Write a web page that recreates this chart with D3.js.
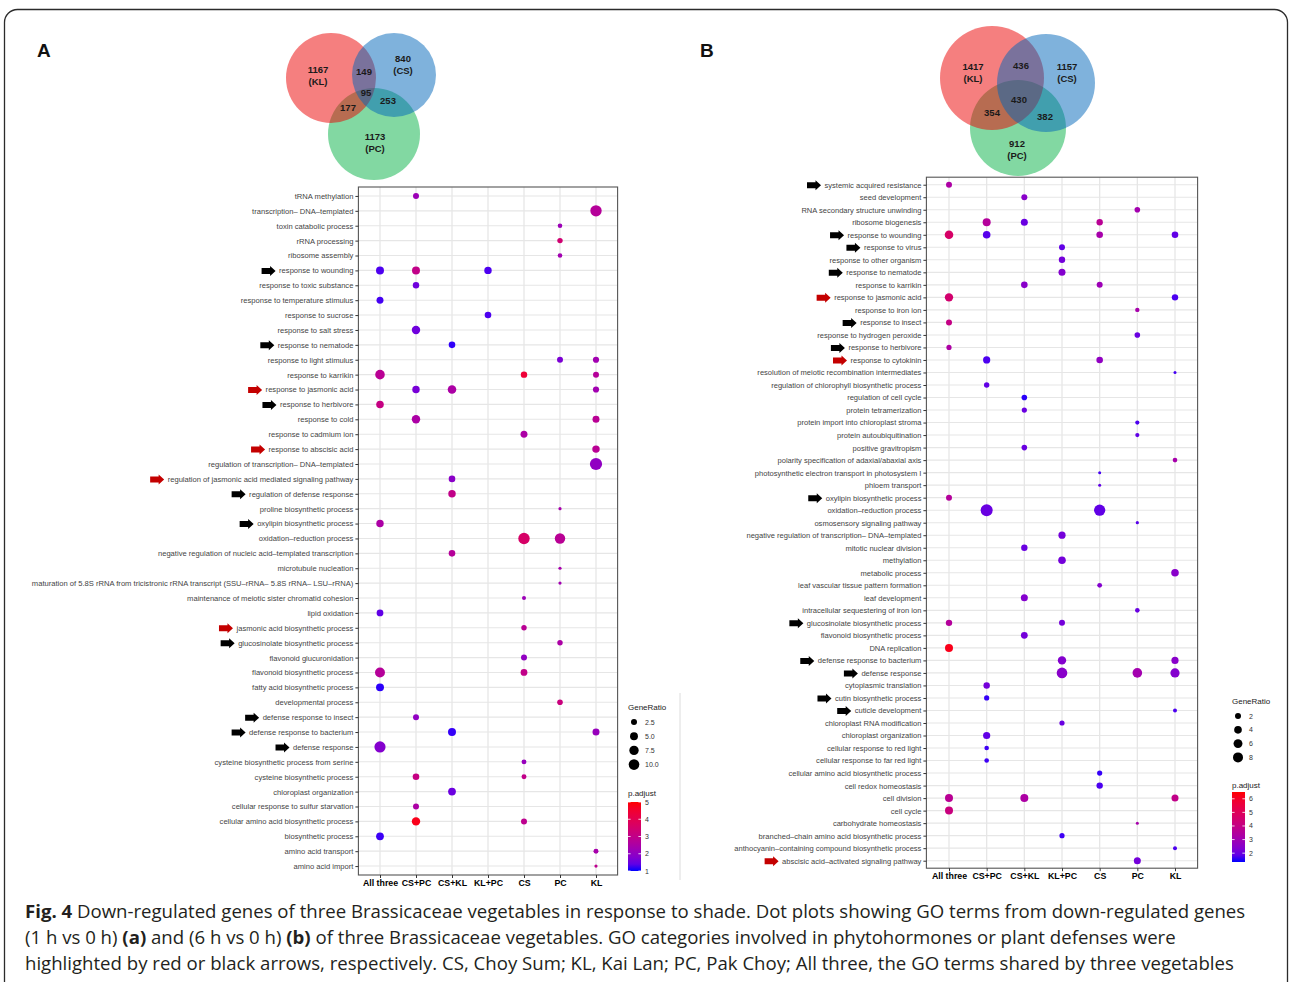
<!DOCTYPE html>
<html><head><meta charset="utf-8">
<script src="https://cdn.jsdelivr.net/npm/d3@7"></script>
<style>body{margin:0;background:#fff}svg{display:block}</style>
</head><body>
<svg id="fig" width="1292" height="982"></svg>
<script>
// ---------------- DATA ----------------
const groups = ["All three","CS+PC","CS+KL","KL+PC","CS","PC","KL"];

const termsA = [
"tRNA methylation","transcription– DNA–templated","toxin catabolic process","rRNA processing","ribosome assembly",
"response to wounding","response to toxic substance","response to temperature stimulus","response to sucrose","response to salt stress",
"response to nematode","response to light stimulus","response to karrikin","response to jasmonic acid","response to herbivore",
"response to cold","response to cadmium ion","response to abscisic acid","regulation of transcription– DNA–templated",
"regulation of jasmonic acid mediated signaling pathway","regulation of defense response","proline biosynthetic process",
"oxylipin biosynthetic process","oxidation–reduction process","negative regulation of nucleic acid–templated transcription",
"microtubule nucleation","maturation of 5.8S rRNA from tricistronic rRNA transcript (SSU–rRNA– 5.8S rRNA– LSU–rRNA)",
"maintenance of meiotic sister chromatid cohesion","lipid oxidation","jasmonic acid biosynthetic process",
"glucosinolate biosynthetic process","flavonoid glucuronidation","flavonoid biosynthetic process","fatty acid biosynthetic process",
"developmental process","defense response to insect","defense response to bacterium","defense response",
"cysteine biosynthetic process from serine","cysteine biosynthetic process","chloroplast organization",
"cellular response to sulfur starvation","cellular amino acid biosynthetic process","biosynthetic process",
"amino acid transport","amino acid import"];

// [term, group, GeneRatio, p.adjust]
const dotsA = [
["tRNA methylation","CS+PC",2.5,2.2],
["transcription– DNA–templated","KL",11.8,2.7],
["toxin catabolic process","PC",1.2,2.2],
["rRNA processing","PC",1.9,3.4],
["ribosome assembly","PC",1.2,2.3],
["response to wounding","All three",5.1,1.25],["response to wounding","CS+PC",5.1,3.0],["response to wounding","KL+PC",4.3,1.25],
["response to toxic substance","CS+PC",3.0,1.55],
["response to temperature stimulus","All three",3.7,1.2],
["response to sucrose","KL+PC",3.2,1.25],
["response to salt stress","CS+PC",5.8,1.55],
["response to nematode","CS+KL",3.2,1.1],
["response to light stimulus","PC",2.5,1.7],["response to light stimulus","KL",2.7,2.3],
["response to karrikin","All three",7.9,2.8],["response to karrikin","CS",3.0,4.4],["response to karrikin","KL",2.5,2.7],
["response to jasmonic acid","CS+PC",4.3,1.65],["response to jasmonic acid","CS+KL",6.1,2.5],["response to jasmonic acid","KL",2.7,2.3],
["response to herbivore","All three",4.5,3.1],
["response to cold","CS+PC",5.8,2.5],["response to cold","KL",3.7,2.8],
["response to cadmium ion","CS",3.7,2.5],
["response to abscisic acid","KL",4.3,2.8],
["regulation of transcription– DNA–templated","KL",13.8,2.0],
["regulation of jasmonic acid mediated signaling pathway","CS+KL",3.2,1.9],
["regulation of defense response","CS+KL",4.3,3.0],
["proline biosynthetic process","PC",0.38,2.4],
["oxylipin biosynthetic process","All three",4.3,2.5],
["oxidation–reduction process","CS",11.8,3.6],["oxidation–reduction process","PC",9.6,2.8],
["negative regulation of nucleic acid–templated transcription","CS+KL",3.2,2.7],
["microtubule nucleation","PC",0.38,2.4],
["maturation of 5.8S rRNA from tricistronic rRNA transcript (SSU–rRNA– 5.8S rRNA– LSU–rRNA)","PC",0.38,2.3],
["maintenance of meiotic sister chromatid cohesion","CS",0.8,2.2],
["lipid oxidation","All three",3.4,1.4],
["jasmonic acid biosynthetic process","CS",1.9,2.8],
["glucosinolate biosynthetic process","PC",1.9,2.5],
["flavonoid glucuronidation","CS",2.5,2.0],
["flavonoid biosynthetic process","All three",8.7,2.7],["flavonoid biosynthetic process","CS",3.4,3.0],
["fatty acid biosynthetic process","All three",5.1,1.08],
["developmental process","PC",2.1,3.2],
["defense response to insect","CS+PC",2.5,2.0],
["defense response to bacterium","CS+KL",5.1,1.12],["defense response to bacterium","KL",3.7,2.1],
["defense response","All three",11.3,1.8],
["cysteine biosynthetic process from serine","CS",1.4,2.1],
["cysteine biosynthetic process","CS+PC",3.2,3.1],["cysteine biosynthetic process","CS",1.5,3.0],
["chloroplast organization","CS+KL",4.8,1.5],
["cellular response to sulfur starvation","CS+PC",2.5,2.5],
["cellular amino acid biosynthetic process","CS+PC",5.8,4.8],["cellular amino acid biosynthetic process","CS",2.5,2.9],
["biosynthetic process","All three",4.8,1.15],
["amino acid transport","KL",1.5,2.4],
["amino acid import","KL",0.38,2.9]];

const arrowsA = [
["response to wounding","black"],["response to nematode","black"],["response to jasmonic acid","red"],
["response to herbivore","black"],["response to abscisic acid","red"],
["regulation of jasmonic acid mediated signaling pathway","red"],["regulation of defense response","black"],
["oxylipin biosynthetic process","black"],["jasmonic acid biosynthetic process","red"],
["glucosinolate biosynthetic process","black"],["defense response to insect","black"],
["defense response to bacterium","black"],["defense response","black"]];

const termsB = [
"systemic acquired resistance","seed development","RNA secondary structure unwinding","ribosome biogenesis","response to wounding",
"response to virus","response to other organism","response to nematode","response to karrikin","response to jasmonic acid",
"response to iron ion","response to insect","response to hydrogen peroxide","response to herbivore","response to cytokinin",
"resolution of meiotic recombination intermediates","regulation of chlorophyll biosynthetic process","regulation of cell cycle",
"protein tetramerization","protein import into chloroplast stroma","protein autoubiquitination","positive gravitropism",
"polarity specification of adaxial/abaxial axis","photosynthetic electron transport in photosystem I","phloem transport",
"oxylipin biosynthetic process","oxidation–reduction process","osmosensory signaling pathway",
"negative regulation of transcription– DNA–templated","mitotic nuclear division","methylation","metabolic process",
"leaf vascular tissue pattern formation","leaf development","intracellular sequestering of iron ion",
"glucosinolate biosynthetic process","flavonoid biosynthetic process","DNA replication","defense response to bacterium",
"defense response","cytoplasmic translation","cutin biosynthetic process","cuticle development","chloroplast RNA modification",
"chloroplast organization","cellular response to red light","cellular response to far red light",
"cellular amino acid biosynthetic process","cell redox homeostasis","cell division","cell cycle","carbohydrate homeostasis",
"branched–chain amino acid biosynthetic process","anthocyanin–containing compound biosynthetic process",
"abscisic acid–activated signaling pathway"];

const dotsB = [
["systemic acquired resistance","All three",2.0,3.31],
["seed development","CS+KL",2.0,2.48],
["RNA secondary structure unwinding","PC",1.62,3.05],
["ribosome biogenesis","CS+PC",4.5,3.51],["ribosome biogenesis","CS+KL",3.13,1.97],["ribosome biogenesis","CS",2.42,3.67],
["response to wounding","All three",5.45,4.7],["response to wounding","CS+PC",3.92,1.76],["response to wounding","CS",2.65,3.15],["response to wounding","KL",2.65,1.87],
["response to virus","KL+PC",2.0,1.87],
["response to other organism","KL+PC",2.42,2.12],
["response to nematode","KL+PC",3.13,2.38],
["response to karrikin","CS+KL",2.65,2.48],["response to karrikin","CS",2.0,2.9],
["response to jasmonic acid","All three",5.12,4.54],["response to jasmonic acid","KL",2.42,1.66],
["response to iron ion","PC",0.72,3.15],
["response to insect","All three",2.0,4.03],
["response to hydrogen peroxide","PC",1.62,1.97],
["response to herbivore","All three",1.28,3.31],
["response to cytokinin","CS+PC",3.38,1.66],["response to cytokinin","CS",2.65,2.64],
["resolution of meiotic recombination intermediates","KL",0.125,1.61],
["regulation of chlorophyll biosynthetic process","CS+PC",1.45,1.87],
["regulation of cell cycle","CS+KL",1.62,1.45],
["protein tetramerization","CS+KL",1.28,1.97],
["protein import into chloroplast stroma","PC",0.6,1.66],
["protein autoubiquitination","PC",0.6,1.87],
["positive gravitropism","CS+KL",1.62,1.97],
["polarity specification of adaxial/abaxial axis","KL",0.85,3.15],
["photosynthetic electron transport in photosystem I","CS",0.125,1.61],
["phloem transport","CS",0.125,1.87],
["oxylipin biosynthetic process","All three",2.0,3.51],
["oxidation–reduction process","CS+PC",12.5,1.97],["oxidation–reduction process","CS",10.58,1.87],
["osmosensory signaling pathway","PC",0.18,1.76],
["negative regulation of transcription– DNA–templated","KL+PC",3.38,2.12],
["mitotic nuclear division","CS+KL",2.42,1.97],
["methylation","KL+PC",3.92,2.12],
["metabolic process","KL",3.92,2.48],
["leaf vascular tissue pattern formation","CS",0.98,2.38],
["leaf development","CS+KL",3.13,2.38],
["intracellular sequestering of iron ion","PC",0.85,1.97],
["glucosinolate biosynthetic process","All three",2.42,3.51],["glucosinolate biosynthetic process","KL+PC",2.0,2.12],
["flavonoid biosynthetic process","CS+KL",2.88,2.12],
["DNA replication","All three",4.5,6.24],
["defense response to bacterium","KL+PC",5.12,2.38],["defense response to bacterium","KL",3.38,2.48],
["defense response","KL+PC",9.25,2.48],["defense response","PC",7.22,3.05],["defense response","KL",6.48,2.38],
["cytoplasmic translation","CS+PC",2.42,2.12],
["cutin biosynthetic process","CS+PC",1.28,1.5],
["cuticle development","KL",0.5,1.66],
["chloroplast RNA modification","KL+PC",1.28,1.97],
["chloroplast organization","CS+PC",3.38,1.87],
["cellular response to red light","CS+PC",0.85,1.56],
["cellular response to far red light","CS+PC",0.85,1.56],
["cellular amino acid biosynthetic process","CS",1.28,1.5],
["cell redox homeostasis","CS",2.42,1.66],
["cell division","All three",4.5,3.67],["cell division","CS+KL",4.5,3.31],["cell division","KL",3.13,3.93],
["cell cycle","All three",4.5,4.18],
["carbohydrate homeostasis","PC",0.125,3.15],
["branched–chain amino acid biosynthetic process","KL+PC",1.28,1.56],
["anthocyanin–containing compound biosynthetic process","KL",0.5,1.66],
["abscisic acid–activated signaling pathway","PC",3.13,2.12]];

const arrowsB = [
["systemic acquired resistance","black"],["response to wounding","black"],["response to virus","black"],
["response to nematode","black"],["response to jasmonic acid","red"],["response to insect","black"],
["response to herbivore","black"],["response to cytokinin","red"],["oxylipin biosynthetic process","black"],
["glucosinolate biosynthetic process","black"],["defense response to bacterium","black"],["defense response","black"],
["cutin biosynthetic process","black"],["cuticle development","black"],["abscisic acid–activated signaling pathway","red"]];

const sizeBreaksA = [2.5,5,7.5,10], sizeLabelsA = ["2.5","5.0","7.5","10.0"];
const sizeBreaksB = [2,4,6,8],      sizeLabelsB = ["2","4","6","8"];
const pBreaksA = [1,2,3,4,5], pBreaksB = [2,3,4,5,6];

// Venn: counts in order KL only, CS only, PC only, KL∩CS, KL∩PC, CS∩PC, all
const vennNames = ["KL","CS","PC"];
const vennA = [1167, 840, 1173, 149, 177, 253, 95];
const vennB = [1417, 1157, 912, 436, 354, 382, 430];

const captionLines = [
 [["Fig. 4",true],[" Down-regulated genes of three Brassicaceae vegetables in response to shade. Dot plots showing GO terms from down-regulated genes",false]],
 [["(1 h vs 0 h) ",false],["(a)",true],[" and (6 h vs 0 h) ",false],["(b)",true],[" of three Brassicaceae vegetables. GO categories involved in phytohormones or plant defenses were",false]],
 [["highlighted by red or black arrows, respectively. CS, Choy Sum; KL, Kai Lan; PC, Pak Choy; All three, the GO terms shared by three vegetables",false]]];

// ---------------- DRAW ----------------
const svg = d3.select("#fig");
const FONT = "'Liberation Sans', Arial, Helvetica, sans-serif";

svg.append("rect").attr("x",4.5).attr("y",9.5).attr("width",1283).attr("height",1010)
  .attr("rx",13).attr("fill","none").attr("stroke","#2b2b2b").attr("stroke-width",1.3);

svg.append("text").attr("x",37).attr("y",57).text("A").attr("font-family",FONT)
  .attr("font-weight","bold").attr("font-size",19).attr("fill","#111");
svg.append("text").attr("x",700).attr("y",57).text("B").attr("font-family",FONT)
  .attr("font-weight","bold").attr("font-size",19).attr("fill","#111");

function drawVenn(cfg, counts){
  const g = svg.append("g");
  const cols = {KL:"#eb0000", CS:"#0065b9", PC:"#05b145"};
  ["PC","KL","CS"].forEach(k=>{
    const c = cfg.circles[k];
    g.append("circle").attr("cx",c[0]).attr("cy",c[1]).attr("r",c[2])
      .attr("fill",cols[k]).attr("fill-opacity",0.5);
  });
  const labs = cfg.labels;
  const txt = [
    [counts[0], "(KL)"],[counts[1],"(CS)"],[counts[2],"(PC)"],
    [counts[3]],[counts[4]],[counts[5]],[counts[6]]];
  txt.forEach((t,i)=>{
    const p = labs[i];
    const tx = g.append("text").attr("x",p[0]).attr("y",p[1]).attr("text-anchor","middle")
      .attr("font-family",FONT).attr("font-weight","bold").attr("font-size",9.5).attr("fill","#1a1a1a");
    tx.append("tspan").attr("x",p[0]).attr("dy",0).text(t[0]);
    if (t[1]) tx.append("tspan").attr("x",p[0]).attr("dy",11.5).text(t[1]);
  });
}
drawVenn({circles:{KL:[331,78,45],CS:[394,75,42],PC:[374,134,46]},
  labels:[[318,73],[403,62],[375,140],[364,75],[348,111],[388,104],[366,96]]}, vennA);
drawVenn({circles:{KL:[992,78,52],CS:[1046,83,49],PC:[1018,128,48]},
  labels:[[973,70],[1067,70],[1017,147],[1021,69],[992,116],[1045,120],[1019,103]]}, vennB);

function arrowPath(tipX, cy){
  const L=14, hw=5.5, sh=3;
  return `M${tipX},${cy} L${tipX-hw},${cy-5} L${tipX-hw},${cy-sh} L${tipX-L},${cy-sh} L${tipX-L},${cy+sh} L${tipX-hw},${cy+sh} L${tipX-hw},${cy+5} Z`;
}

function drawPanel(cfg){
  const g = svg.append("g");
  const x = d3.scalePoint().domain(groups).range(cfg.xr).padding(0.6);
  const y = d3.scalePoint().domain(cfg.terms).range(cfg.yr).padding(0.6);
  const r = d3.scaleSqrt().domain(cfg.sizeDomain).range(cfg.sizeRange);
  const c = d3.scaleLinear().domain(cfg.pDomain).range(["#0000ff","#ff0000"]).interpolate(d3.interpolateLab);
  const [x0,x1] = cfg.xr, [y0,y1] = cfg.yr;

  g.append("rect").attr("x",x0).attr("y",y0).attr("width",x1-x0).attr("height",y1-y0).attr("fill","#fff");
  g.append("g").selectAll("line").data(cfg.terms).join("line")
    .attr("x1",x0).attr("x2",x1).attr("y1",d=>y(d)).attr("y2",d=>y(d))
    .attr("stroke","#e6e6e6").attr("stroke-width",1.1);
  g.append("g").selectAll("line").data(groups).join("line")
    .attr("y1",y0).attr("y2",y1).attr("x1",d=>x(d)).attr("x2",d=>x(d))
    .attr("stroke","#e6e6e6").attr("stroke-width",1.3);

  g.append("g").selectAll("circle").data(cfg.dots).join("circle")
    .attr("cx",d=>x(d[1])).attr("cy",d=>y(d[0])).attr("r",d=>r(d[2])).attr("fill",d=>c(d[3]));

  g.append("rect").attr("x",x0).attr("y",y0).attr("width",x1-x0).attr("height",y1-y0)
    .attr("fill","none").attr("stroke","#555").attr("stroke-width",1.1);

  const ya = g.append("g").attr("transform",`translate(${x0},0)`)
    .call(d3.axisLeft(y).tickSize(3).tickPadding(2));
  ya.select(".domain").remove();
  ya.selectAll("line").attr("stroke","#333");
  ya.selectAll("text").attr("font-family",FONT).attr("font-size",cfg.labelSize).attr("fill","#444");

  const xa = g.append("g").attr("transform",`translate(0,${y1})`)
    .call(d3.axisBottom(x).tickSize(3).tickPadding(2));
  xa.select(".domain").remove();
  xa.selectAll("line").attr("stroke","#333");
  xa.selectAll("text").attr("font-family",FONT).attr("font-size",8.8).attr("font-weight","bold").attr("fill","#000");

  const arrowMap = new Map(cfg.arrows);
  ya.selectAll(".tick").each(function(d){
    if(!arrowMap.has(d)) return;
    const t = d3.select(this).select("text").node();
    const len = t.getComputedTextLength();
    const tip = -3 - 2 - len - 3.5;
    d3.select(this).append("path").attr("d",arrowPath(tip,0))
      .attr("fill",arrowMap.get(d)==="red" ? "#c40000" : "#000");
  });

  const L = cfg.legend;
  g.append("text").attr("x",L.x).attr("y",L.sizeTitleY).text("GeneRatio")
    .attr("font-family",FONT).attr("font-size",8).attr("fill","#222");
  L.sizeBreaks.forEach((v,i)=>{
    const cy = L.dotY0 + i*L.dotStep;
    g.append("circle").attr("cx",L.x+6).attr("cy",cy).attr("r",r(v)).attr("fill","#000");
    g.append("text").attr("x",L.x+17).attr("y",cy+2.5).text(L.sizeLabels[i])
      .attr("font-family",FONT).attr("font-size",7).attr("fill","#333");
  });
  g.append("text").attr("x",L.x).attr("y",L.colTitleY).text("p.adjust")
    .attr("font-family",FONT).attr("font-size",8).attr("fill","#222");
  const gid = "grad"+cfg.id;
  const grad = svg.append("defs").append("linearGradient").attr("id",gid)
    .attr("x1",0).attr("y1",1).attr("x2",0).attr("y2",0);
  d3.range(0,1.0001,0.1).forEach(t=>{
    grad.append("stop").attr("offset",t).attr("stop-color",c(cfg.pDomain[0]+t*(cfg.pDomain[1]-cfg.pDomain[0])));
  });
  g.append("rect").attr("x",L.x).attr("y",L.barTop).attr("width",13).attr("height",L.barBottom-L.barTop)
    .attr("fill",`url(#${gid})`);
  const py = d3.scaleLinear().domain(cfg.pDomain).range([L.barBottom,L.barTop]);
  L.pBreaks.forEach(v=>{
    g.append("line").attr("x1",L.x).attr("x2",L.x+2.6).attr("y1",py(v)).attr("y2",py(v)).attr("stroke","#fff").attr("stroke-width",0.8);
    g.append("line").attr("x1",L.x+10.4).attr("x2",L.x+13).attr("y1",py(v)).attr("y2",py(v)).attr("stroke","#fff").attr("stroke-width",0.8);
    g.append("text").attr("x",L.x+17).attr("y",py(v)+2.5).text(v)
      .attr("font-family",FONT).attr("font-size",7).attr("fill","#333");
  });
}

drawPanel({id:"A", terms:termsA, dots:dotsA, arrows:arrowsA, xr:[358.4,617.6], yr:[187,875],
  sizeDomain:[0,10], sizeRange:[0.7,5.3], pDomain:[1,5], labelSize:7.6,
  legend:{x:628, sizeTitleY:710, dotY0:722, dotStep:14.2, sizeBreaks:sizeBreaksA, sizeLabels:sizeLabelsA,
          colTitleY:796, barTop:802, barBottom:871, pBreaks:pBreaksA}});
drawPanel({id:"B", terms:termsB, dots:dotsB, arrows:arrowsB, xr:[926.4,1197.6], yr:[177.2,868.2],
  sizeDomain:[0,8], sizeRange:[1,5], pDomain:[1.35,6.5], labelSize:7.55,
  legend:{x:1232, sizeTitleY:704, dotY0:716, dotStep:13.8, sizeBreaks:sizeBreaksB, sizeLabels:sizeLabelsB,
          colTitleY:788, barTop:792, barBottom:862, pBreaks:pBreaksB}});

svg.append("line").attr("x1",680).attr("x2",680).attr("y1",693).attr("y2",880).attr("stroke","#dcdcdc").attr("stroke-width",1);

captionLines.forEach((line,i)=>{
  const t = svg.append("text").attr("x",25).attr("y",918+i*26.2)
    .attr("font-family","'Open Sans', 'Noto Sans', sans-serif").attr("font-size",18.6).attr("fill","#231f20");
  line.forEach(([s,b])=>{ t.append("tspan").text(s).attr("font-weight",b?"bold":"normal"); });
});
</script>
</body></html>
